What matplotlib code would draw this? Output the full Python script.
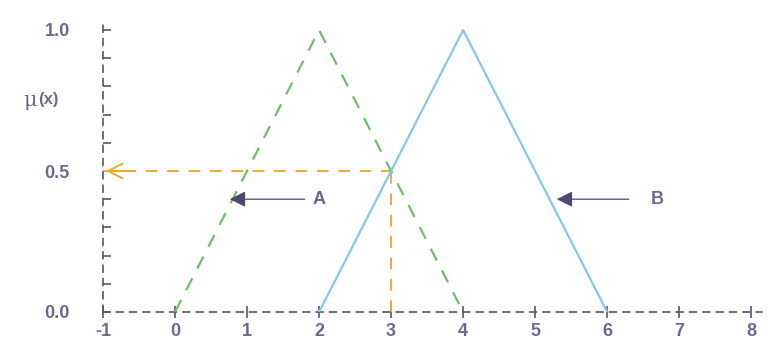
import matplotlib.pyplot as plt
import numpy as np

# datos
a_x = [0, 2, 4]
a_y = [0, 1, 0]
b_x = [2, 4, 6]
b_y = [0, 1, 0]
corte_x = 3
corte_y = 0.5
xticks = [-1, 0, 1, 2, 3, 4, 5, 6, 7, 8]
yticks = [0.0, 0.5, 1.0]

plt.rcParams['font.family'] = ['Liberation Sans', 'DejaVu Sans']
color_texto = '#6a6a90'
color_eje = '#55556a'

fig = plt.figure(figsize=(7.71, 3.47), dpi=100)
ymax = 1.035
ax = fig.add_axes([103 / 771, 35 / 347, (762 - 103) / 771, 282 * ymax / 347])
ax.set_xlim(-1, 8.15)
ax.set_ylim(0, ymax)

# triangulos A y B
ax.plot(a_x, a_y, '--', color='#6cbf6a', linewidth=1.6, dashes=(6, 5), zorder=3)
ax.plot(b_x, b_y, '-', color='#84c9e6', linewidth=1.6, zorder=3)

# corte en x = 3
ax.plot([corte_x, corte_x], [0, corte_y], '--', color='#f0a830', linewidth=1.4, dashes=(6, 5), zorder=2)
ax.plot([-1, corte_x], [corte_y, corte_y], '--', color='#f0a830', linewidth=1.4, dashes=(6, 5), zorder=2)
ax.annotate('', xy=(-1, corte_y), xytext=(-0.6, corte_y),
            arrowprops=dict(arrowstyle='->', color='#f0a830', lw=1.4, mutation_scale=26))

# flechas A y B
for tip_x, end_x, lab_x, lab in [(0.76, 1.8, 2.0, 'A'), (5.3, 6.3, 6.7, 'B')]:
    ax.annotate('', xy=(tip_x, 0.4), xytext=(end_x, 0.4),
                arrowprops=dict(arrowstyle='-|>', color='#4a4a6e', lw=0.9,
                                mutation_scale=24, shrinkA=0, shrinkB=0))
    ax.text(lab_x, 0.4, lab, color=color_texto, fontsize=13, fontweight='bold',
            ha='center', va='center')

# ejes punteados
for s in ['top', 'right']:
    ax.spines[s].set_visible(False)
for s in ['left', 'bottom']:
    ax.spines[s].set_linestyle((0, (4, 4)))
    ax.spines[s].set_color(color_eje)
    ax.spines[s].set_linewidth(1.2)

ax.set_xticks(xticks)
ax.set_xticklabels([str(t) for t in xticks])
ax.set_yticks(yticks)
ax.set_yticklabels(['%.1f' % t for t in yticks])
ax.set_yticks(np.arange(0, 1.01, 0.1), minor=True)
ax.tick_params(axis='x', direction='inout', length=8, width=1.2, color=color_eje, pad=4)
ax.tick_params(axis='y', which='both', direction='in', length=6, width=1.2, color=color_eje, pad=24)

for label in ax.get_xticklabels() + ax.get_yticklabels():
    label.set_fontweight('bold')
    label.set_fontsize(13)
    label.set_color(color_texto)

ax.text(-1.92, 0.75, u'\u03bc', color=color_texto, fontsize=15,
        ha='right', va='center', family=['DejaVu Serif'])
ax.text(-1.9, 0.755, '(x)', color=color_texto, fontsize=12, fontweight='bold',
        ha='left', va='center')

fig.savefig('out.png', dpi=100)
